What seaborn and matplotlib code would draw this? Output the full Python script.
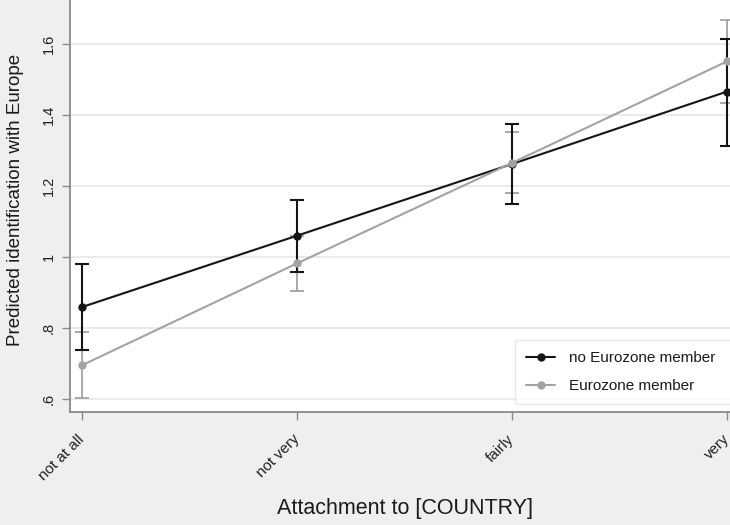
import matplotlib
matplotlib.use("Agg")
import matplotlib.pyplot as plt
import seaborn as sns
import pandas as pd
import numpy as np

categories = ["not at all", "not very", "fairly", "very"]
no_ez_mean = [0.859, 1.060, 1.262, 1.466]
no_ez_low = [0.737, 0.959, 1.148, 1.314]
no_ez_high = [0.981, 1.160, 1.376, 1.615]
ez_mean = [0.695, 0.982, 1.265, 1.551]
ez_low = [0.602, 0.905, 1.180, 1.434]
ez_high = [0.789, 1.059, 1.351, 1.668]
series_names = ["no Eurozone member", "Eurozone member"]
yticks = [0.6, 0.8, 1.0, 1.2, 1.4, 1.6]
ytick_labels = [".6", ".8", "1", "1.2", "1.4", "1.6"]

sns.set_theme(style="white")
plt.rcParams["font.family"] = ["Liberation Sans", "DejaVu Sans"]

W, H = 730, 525
fig = plt.figure(figsize=(W / 100, H / 100), dpi=100, facecolor="#efefef")
left_px, right_px, top_px, bottom_px = 70, 750, 0, 412
ax = fig.add_axes([left_px / W, 1 - bottom_px / H,
                   (right_px - left_px) / W, (bottom_px - top_px) / H])
ax.set_facecolor("white")

x = np.arange(len(categories))
df = pd.DataFrame({
    "x": np.concatenate([x, x]),
    "y": no_ez_mean + ez_mean,
    "group": [series_names[0]] * 4 + [series_names[1]] * 4,
})

black = "#151515"
gray = "#a3a3a3"

# error bars (gray underneath, black above)
ax.errorbar(x, ez_mean,
            yerr=[np.array(ez_mean) - np.array(ez_low), np.array(ez_high) - np.array(ez_mean)],
            fmt="none", ecolor=gray, elinewidth=1.3, capsize=5, capthick=1.3, zorder=2)
ax.errorbar(x, no_ez_mean,
            yerr=[np.array(no_ez_mean) - np.array(no_ez_low), np.array(no_ez_high) - np.array(no_ez_mean)],
            fmt="none", ecolor=black, elinewidth=1.5, capsize=5, capthick=1.5, zorder=3)

sns.lineplot(data=df, x="x", y="y", hue="group", hue_order=series_names,
             palette=[black, gray], marker="o", markersize=6,
             markeredgewidth=0, linewidth=1.5, ax=ax, zorder=4)

# x scale: tick spacing 215 px, first tick at 82 px
xl = (left_px - 82) / 215
xr = (right_px - 82) / 215
ax.set_xlim(xl, xr)
yb = 0.6 - (bottom_px - 399) / 355
yt = 0.6 + (399 - top_px) / 355
ax.set_ylim(yb, yt)

ax.set_xticks(x)
ax.set_xticklabels(categories, rotation=45, ha="right", rotation_mode="anchor",
                   va="center", fontsize=11, color="#222222")
ax.set_yticks(yticks)
ax.set_yticklabels(ytick_labels, rotation=90, va="center", fontsize=10.5, color="#222222")
ax.tick_params(axis="both", direction="out", length=6, width=1, color="#8a8a8a",
               left=True, bottom=True)
ax.tick_params(axis="x", pad=12)
ax.tick_params(axis="y", pad=4)

ax.yaxis.grid(True, color="#e6e6e6", linewidth=1.2)
ax.xaxis.grid(False)
ax.set_axisbelow(True)

for s in ["top", "right"]:
    ax.spines[s].set_visible(False)
for s in ["left", "bottom"]:
    ax.spines[s].set_color("#8a8a8a")
    ax.spines[s].set_linewidth(1.3)

ax.set_xlabel("Attachment to [COUNTRY]", fontsize=15.5, color="#1a1a1a")
ax.xaxis.set_label_coords((405 - left_px) / (right_px - left_px), (bottom_px - 498) / bottom_px)
ax.set_ylabel("Predicted identification with Europe", fontsize=13.5, color="#1a1a1a")
ax.yaxis.set_label_coords((24 - left_px) / (right_px - left_px), (bottom_px - 200) / bottom_px)

leg = ax.legend(loc="upper left",
                bbox_to_anchor=((515 - left_px) / (right_px - left_px), 0.0,
                                (740 - 515) / (right_px - left_px), (bottom_px - 340) / bottom_px),
                mode="expand", borderaxespad=0, fontsize=11, frameon=True,
                handlelength=1.9, handletextpad=0.9, labelspacing=0.88,
                fancybox=False, title=None, borderpad=0.75)
leg.get_frame().set_edgecolor("#e2e2e2")
leg.get_frame().set_linewidth(1.0)
for t in leg.get_texts():
    t.set_color("#1a1a1a")

fig.savefig("out.png", dpi=100, facecolor=fig.get_facecolor())
